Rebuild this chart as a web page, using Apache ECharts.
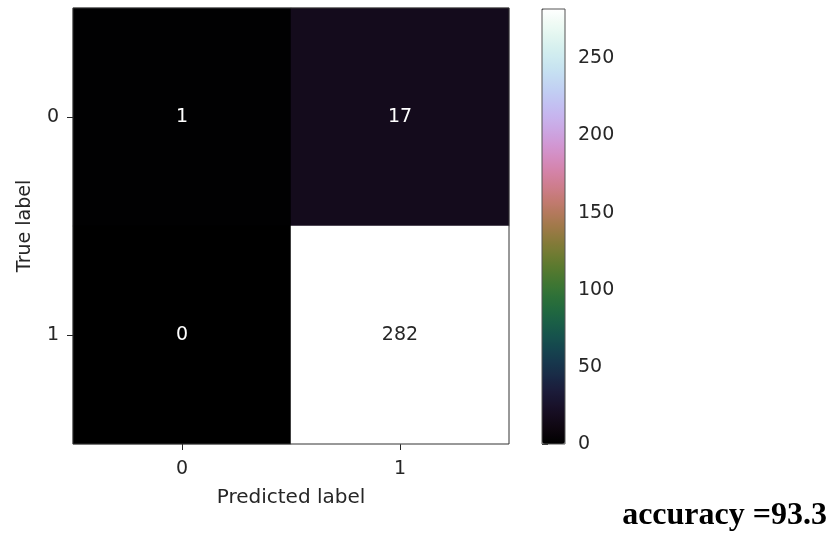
<!DOCTYPE html>
<html>
<head>
<meta charset="utf-8">
<script src="https://cdn.jsdelivr.net/npm/echarts@6/dist/echarts.min.js"></script>
<style>
  html, body { margin: 0; padding: 0; background: #fff; }
  #chart { width: 831px; height: 541px; }
</style>
</head>
<body>
<div id="chart"></div>
<script>
const predictedLabels = ["0", "1"];
const trueLabels = ["0", "1"];
// rows = true label, columns = predicted label
const matrixRows = [
  [1, 17],
  [0, 282],
];
const colorbarTicks = [0, 50, 100, 150, 200, 250];
const accuracyText = "accuracy =93.3";

const INK = "#262626";
const FONT = "DejaVu Sans";
const FS = 19;

// matplotlib "cubehelix" colormap (gamma 1, s 0.5, r -1.5, h 1)
function cubehelix(x) {
  const a = x * (1 - x) / 2;
  const phi = 2 * Math.PI * (0.5 / 3 - 1.5 * x);
  const c = Math.cos(phi), s = Math.sin(phi);
  const ch = (p0, p1) => Math.max(0, Math.min(1, x + a * (p0 * c + p1 * s)));
  const r = ch(-0.14861, 1.78277), g = ch(-0.29227, -0.90649), b = ch(1.97294, 0);
  const hex = (v) => Math.round(v * 255).toString(16).padStart(2, "0");
  return "#" + hex(r) + hex(g) + hex(b);
}
const cmapStops = [];
for (let i = 0; i <= 32; i++) cmapStops.push(cubehelix(i / 32));

const vmax = Math.max(...matrixRows.flat());
const vmin = Math.min(...matrixRows.flat());

const cells = [];
matrixRows.forEach((row, r) => {
  row.forEach((v, c) => {
    const t = (v - vmin) / (vmax - vmin);
    cells.push({
      value: [c, r, v],
      label: { color: t < 0.5 ? "#ffffff" : INK },
    });
  });
});

const chart = echarts.init(document.getElementById("chart"), null, { renderer: "canvas" });

chart.setOption({
  animation: false,
  backgroundColor: "#fff",
  textStyle: { fontFamily: FONT },
  title: {
    text: accuracyText,
    right: 4,
    bottom: 9,
    padding: 0,
    textStyle: {
      fontFamily: "Liberation Serif",
      fontWeight: "bold",
      fontSize: 32,
      color: "#000",
    },
  },
  grid: [
    {
      left: 73, top: 8, width: 436, height: 436,
      show: true, borderColor: "#333", borderWidth: 1,
      backgroundColor: "transparent", z: 5,
    },
    {
      left: 542, top: 9, width: 23, height: 435,
      show: true, borderColor: "#555", borderWidth: 1,
      backgroundColor: "transparent", z: 6,
    },
  ],
  xAxis: [
    {
      type: "category", gridIndex: 0, data: predictedLabels,
      name: "Predicted label", nameLocation: "middle", nameGap: 44,
      nameTextStyle: { color: INK, fontSize: 20, fontFamily: FONT },
      axisLine: { show: false },
      axisTick: { show: true, alignWithLabel: true, length: 6, lineStyle: { color: INK } },
      axisLabel: { color: INK, fontSize: FS, margin: 16 },
      splitLine: { show: false },
    },
    {
      type: "value", gridIndex: 1, show: false, min: 0, max: 1,
    },
  ],
  yAxis: [
    {
      type: "category", gridIndex: 0, data: trueLabels, inverse: true,
      name: "True label", nameLocation: "middle", nameGap: 38, nameRotate: 90,
      nameTextStyle: { color: INK, fontSize: FS, fontFamily: FONT },
      axisLine: { show: false },
      axisTick: { show: true, alignWithLabel: true, length: 6, lineStyle: { color: INK } },
      axisLabel: { color: INK, fontSize: FS, margin: 14 },
      splitLine: { show: false },
    },
    {
      type: "value", gridIndex: 1, position: "right",
      min: vmin, max: vmax, interval: 50,
      axisLine: { show: false },
      axisTick: { show: true, length: 6, lineStyle: { color: INK } },
      axisLabel: {
        color: INK, fontSize: FS, margin: 13,
        formatter: (v) => (colorbarTicks.includes(v) ? String(v) : ""),
      },
      splitLine: { show: false },
    },
  ],
  visualMap: {
    type: "continuous",
    seriesIndex: 0,
    min: vmin,
    max: vmax,
    calculable: false,
    orient: "vertical",
    left: 542,
    top: 9,
    itemWidth: 23,
    itemHeight: 435,
    padding: 0,
    text: null,
    showLabel: false,
    hoverLink: false,
    inRange: { color: cmapStops },
  },
  series: [
    {
      type: "heatmap",
      xAxisIndex: 0,
      yAxisIndex: 0,
      data: cells,
      label: {
        show: true,
        fontSize: FS,
        fontFamily: FONT,
        formatter: (p) => String(p.value[2]),
      },
      itemStyle: { borderWidth: 0 },
      emphasis: { disabled: true },
    },
  ],
});
</script>
</body>
</html>
